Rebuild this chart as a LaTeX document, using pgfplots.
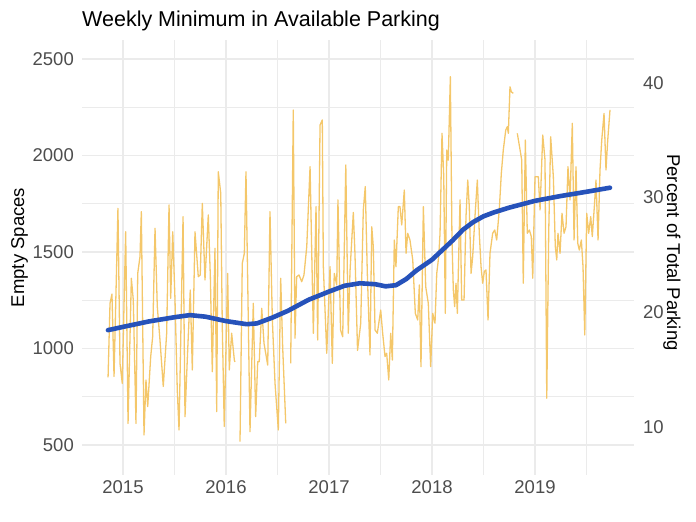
\documentclass[border=0pt]{standalone}
\usepackage{pgfplots}
\pgfplotsset{compat=1.18}
\usepackage{pgfplotstable}
\usepackage{fontspec}
\setmainfont{Liberation Sans}
\definecolor{orangeline}{RGB}{244,199,106}
\definecolor{blueline}{RGB}{38,82,186}
\definecolor{gridc}{RGB}{235,235,235}
\definecolor{tickc}{RGB}{77,77,77}

\pgfplotstableread{
x y
2014.855 850
2014.874 1234
2014.893 1282
2014.913 855
2014.951 1726
2014.971 923
2014.993 819
2015.026 1605
2015.049 612
2015.081 1364
2015.100 1251
2015.126 612
2015.143 1389
2015.165 1476
2015.178 1709
2015.204 552
2015.223 837
2015.240 699
2015.269 958
2015.288 1061
2015.311 1623
2015.333 1217
2015.359 1044
2015.391 803
2015.424 1079
2015.447 1744
2015.463 1260
2015.483 1605
2015.505 1251
2015.527 785
2015.544 578
2015.583 1683
2015.602 647
2015.624 940
2015.653 1303
2015.673 889
2015.699 1605
2015.731 1372
2015.750 1381
2015.770 1752
2015.796 1355
2015.828 1692
2015.848 1372
2015.867 880
2015.893 1519
2015.910 673
2015.925 1916
2015.949 1804
2015.964 1113
2015.983 596
2016.016 1389
2016.032 889
2016.055 1079
2016.081 940
2016.087 930
2016.110 nan
2016.136 517
2016.158 1441
2016.178 1493
2016.194 1916
2016.211 1338
2016.233 569
2016.265 1234
2016.288 647
2016.308 932
2016.323 932
2016.347 1208
2016.369 1027
2016.405 914
2016.427 1709
2016.450 1148
2016.476 819
2016.508 578
2016.531 1364
2016.550 1010
2016.580 612
2016.600 nan
2016.628 923
2016.653 2236
2016.670 1053
2016.686 1372
2016.709 1381
2016.735 1346
2016.757 1381
2016.784 1528
2016.816 1942
2016.848 1079
2016.874 1735
2016.890 1044
2016.913 2158
2016.935 2184
2016.945 1424
2016.978 975
2017.010 1424
2017.032 923
2017.051 1389
2017.075 1329
2017.087 1770
2017.112 1096
2017.133 1061
2017.163 1951
2017.187 1079
2017.204 1400
2017.236 1705
2017.252 1493
2017.277 990
2017.308 1131
2017.333 1718
2017.352 1839
2017.372 1389
2017.398 966
2017.415 1631
2017.430 1528
2017.447 1096
2017.469 1079
2017.502 1199
2017.521 1079
2017.544 958
2017.560 975
2017.580 837
2017.599 1079
2017.615 940
2017.634 1562
2017.650 1424
2017.673 1735
2017.689 1735
2017.706 1640
2017.731 1821
2017.748 1493
2017.764 1597
2017.786 1562
2017.813 1459
2017.838 1182
2017.861 1148
2017.877 1329
2017.893 906
2017.916 1735
2017.939 1320
2017.964 1234
2017.987 906
2018.007 1182
2018.029 1131
2018.046 1389
2018.065 1476
2018.078 1597
2018.097 2115
2018.114 1890
2018.129 1182
2018.143 2028
2018.158 1976
2018.178 2408
2018.194 1562
2018.207 1303
2018.220 1217
2018.233 1338
2018.246 1182
2018.272 1770
2018.288 1251
2018.311 1251
2018.330 1683
2018.347 1873
2018.362 1735
2018.379 1389
2018.395 1476
2018.417 1683
2018.440 1873
2018.459 1597
2018.476 1424
2018.492 1338
2018.508 1400
2018.524 1407
2018.544 1148
2018.563 1493
2018.589 1597
2018.609 1614
2018.628 1562
2018.653 1718
2018.673 1908
2018.692 2028
2018.716 2132
2018.731 2149
2018.741 2115
2018.757 2356
2018.770 2330
2018.789 2322
2018.810 nan
2018.828 2115
2018.871 1977
2018.886 1338
2018.906 2080
2018.925 1597
2018.945 1614
2018.964 1580
2018.978 1364
2019.000 1890
2019.032 1890
2019.049 1718
2019.075 2106
2019.097 1977
2019.114 742
2019.133 1600
2019.152 2097
2019.178 1890
2019.197 1528
2019.211 1459
2019.223 1597
2019.243 1493
2019.262 1701
2019.282 1597
2019.301 1631
2019.320 1942
2019.340 1770
2019.362 2167
2019.379 1562
2019.398 1942
2019.415 1545
2019.430 1510
2019.450 1562
2019.466 1424
2019.483 1070
2019.502 1701
2019.521 1597
2019.541 1683
2019.556 1580
2019.576 1735
2019.592 1873
2019.612 1562
2019.631 1925
2019.648 2080
2019.670 2218
2019.689 1925
2019.706 2080
2019.728 2236
}\weekly

\pgfplotstableread{
x y
2014.854 1095
2015.000 1112
2015.250 1140
2015.500 1162
2015.650 1173
2015.800 1165
2016.000 1142
2016.200 1126
2016.300 1130
2016.450 1160
2016.600 1195
2016.800 1252
2017.000 1295
2017.150 1325
2017.300 1338
2017.450 1333
2017.550 1322
2017.650 1328
2017.750 1360
2017.850 1405
2018.000 1460
2018.100 1510
2018.200 1560
2018.300 1615
2018.400 1655
2018.500 1685
2018.600 1705
2018.750 1730
2019.000 1765
2019.250 1790
2019.500 1812
2019.728 1833
}\smooth

\begin{document}
\begin{tikzpicture}
\useasboundingbox (0,0) rectangle (696bp,522bp);
\begin{axis}[
  at={(82bp,47bp)}, anchor=south west,
  scale only axis, width=552bp, height=435bp,
  xmin=2014.602, xmax=2019.961,
  ymin=344.6, ymax=2598.4,
  axis line style={draw=none},
  major tick length=0pt, minor tick length=0pt,
  tick style={draw=none},
  xtick={2015,2016,2017,2018,2019},
  minor xtick={2015.5,2016.5,2017.5,2018.5,2019.5},
  ytick={500,1000,1500,2000,2500},
  minor ytick={750,1250,1750,2250},
  xticklabel style={/pgf/number format/1000 sep={}},
  /pgf/number format/1000 sep={},
  /pgf/number format/assume math mode=true,
  ticklabel style={font=\fontsize{18.5bp}{20bp}\selectfont, text=tickc, inner sep=0pt},
  yticklabel style={anchor=east, xshift=-8bp},
  xticklabel style={anchor=north, yshift=-5bp},
  grid=both,
  major grid style={gridc, line width=1.1bp},
  minor grid style={gridc, line width=0.6bp},
  unbounded coords=jump,
  clip=true,
]
\addplot[orangeline, line width=1.3bp, line join=round] table[x=x,y=y] {\weekly};
\addplot[blueline, line width=4.6bp, line cap=round, line join=round] table[x=x,y=y] {\smooth};
\end{axis}
\begin{axis}[
  at={(82bp,47bp)}, anchor=south west,
  scale only axis, width=552bp, height=435bp,
  xmin=2014.602, xmax=2019.961,
  ymin=5.80, ymax=43.74,
  axis line style={draw=none},
  axis y line*=right,
  axis x line=none,
  major tick length=0pt,
  tick style={draw=none},
  ytick={10,20,30,40},
  /pgf/number format/assume math mode=true,
  ticklabel style={font=\fontsize{18.5bp}{20bp}\selectfont, text=tickc, inner sep=0pt},
  yticklabel style={anchor=west, xshift=9bp},
]
\addplot[draw=none] coordinates {(2015,10)};
\end{axis}
\node[anchor=base west, inner sep=0pt, font=\fontsize{21.5bp}{24bp}\selectfont] at (82bp,495.3bp) {Weekly Minimum in Available Parking};
\node[anchor=base, rotate=90, inner sep=0pt, font=\fontsize{18.5bp}{20bp}\selectfont] at (24bp,274.5bp) {Empty Spaces};
\node[anchor=base, rotate=-90, inner sep=0pt, font=\fontsize{18.5bp}{20bp}\selectfont] at (667bp,269.5bp) {Percent of Total Parking};
\end{tikzpicture}
\end{document}
